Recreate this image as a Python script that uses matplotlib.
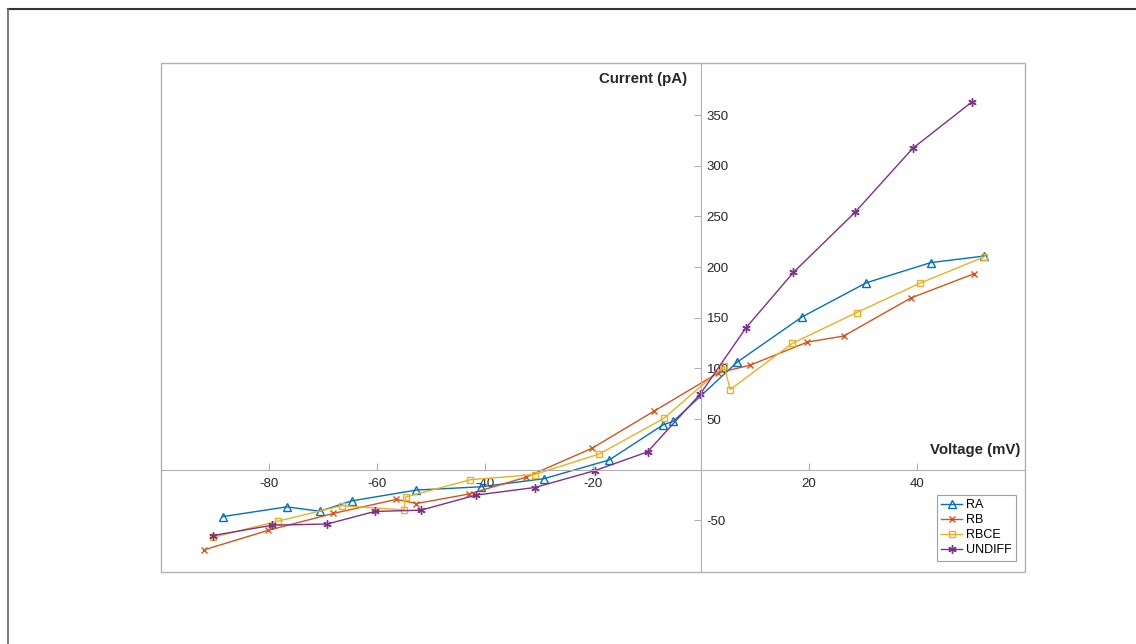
import numpy as np
import matplotlib.pyplot as plt
from matplotlib.lines import Line2D
from matplotlib.patches import Rectangle

# I-V curves, voltage in mV and current in pA
ra_v = [-88.6, -76.7, -70.6, -64.7, -52.7, -40.8, -29.1, -17.0, -7.1, -5.1, 6.7, 18.7, 30.6, 42.5, 52.4]
ra_i = [-46.3, -36.7, -41.0, -30.8, -20.1, -16.9, -8.9, 9.6, 44.0, 47.9, 106.2, 150.8, 184.5, 204.4, 210.9]

rb_v = [-92.0, -80.1, -68.1, -56.4, -52.7, -43.0, -32.5, -20.2, -8.7, 3.2, 9.1, 19.7, 26.4, 38.9, 50.6]
rb_i = [-79.1, -59.8, -43.2, -29.3, -33.4, -24.0, -7.6, 21.1, 57.8, 95.6, 103.2, 126.0, 131.9, 169.6, 193.5]

rbce_v = [-90.4, -78.4, -66.5, -55.0, -54.7, -42.7, -30.8, -18.8, -6.9, 4.3, 5.4, 16.9, 28.8, 40.6, 52.4]
rbce_i = [-66.8, -50.9, -35.5, -39.7, -27.0, -9.9, -4.8, 15.6, 50.6, 102.2, 79.1, 124.7, 155.1, 184.2, 210.0]

undiff_v = [-90.4, -79.4, -69.2, -60.4, -51.9, -41.7, -30.8, -19.7, -9.9, -0.1, 8.3, 17.1, 28.5, 39.2, 50.1]
undiff_i = [-65.0, -54.8, -53.6, -41.2, -40.0, -25.1, -17.6, -1.0, 17.6, 74.9, 139.9, 194.7, 254.0, 317.2, 362.8]

xticks = [-80, -60, -40, -20, 20, 40]
yticks = [-50, 50, 100, 150, 200, 250, 300, 350]

plt.rcParams['font.family'] = ['Liberation Sans', 'DejaVu Sans']
plt.rcParams['axes.unicode_minus'] = False

fig = plt.figure(figsize=(11.36, 6.44), dpi=100)
ax = fig.add_axes([161 / 1136, 72 / 644, 864 / 1136, 509 / 644])

asterisk = (6, 2, 0)
ax.plot(ra_v, ra_i, color='#0072BD', lw=1.0, marker='^', mfc='none', ms=6, mew=1.0, label='RA')
ax.plot(rb_v, rb_i, color='#D95319', lw=1.0, marker='x', ms=5, mew=1.0, label='RB')
ax.plot(rbce_v, rbce_i, color='#EDB120', lw=1.0, marker='s', mfc='none', ms=5, mew=1.0, label='RBCE')
ax.plot(undiff_v, undiff_i, color='#7E2F8E', lw=1.0, marker=asterisk, ms=6, mew=1.0, label='UNDIFF')

ax.set_xlim(-100, 60)
ax.set_ylim(-101, 401.5)

grey = '#b0b0b0'
ax.spines['top'].set_visible(False)
ax.spines['left'].set_visible(False)
ax.spines['right'].set_position(('data', 0))
ax.spines['bottom'].set_position(('data', 0))
ax.spines['right'].set_color(grey)
ax.spines['bottom'].set_color(grey)
ax.add_patch(Rectangle((0, 0), 1, 1, transform=ax.transAxes, fill=False,
                       edgecolor=grey, lw=1.0, clip_on=False, zorder=0))

ax.yaxis.tick_right()
ax.set_xticks(xticks)
ax.set_yticks(yticks)
ax.tick_params(axis='both', direction='in', length=5, width=0.8, color=grey,
               labelsize=9.5, labelcolor='#262626')
ax.tick_params(axis='x', pad=6)
ax.tick_params(axis='y', pad=4)

ax.text(-2.5, 386, 'Current (pA)', ha='right', va='center', fontsize=10.8,
        fontweight='bold', color='#262626')
ax.text(59.2, 19.5, 'Voltage (mV)', ha='right', va='center', fontsize=10.8,
        fontweight='bold', color='#262626')

leg = ax.legend(loc='lower right', bbox_to_anchor=(0.990, 0.022), fontsize=9,
                fancybox=False, framealpha=1, edgecolor='#a0a0a0',
                handlelength=1.7, handletextpad=0.3, borderpad=0.35,
                labelspacing=0.25, borderaxespad=0)
leg.get_frame().set_linewidth(0.8)

# page frame around the figure
fig.add_artist(Line2D([8 / 1136, 1], [1 - 9 / 644, 1 - 9 / 644], color='#333333', lw=1.5))
fig.add_artist(Line2D([8 / 1136, 8 / 1136], [0, 1 - 9 / 644], color='#666666', lw=1.2))

fig.savefig('out.png', dpi=100)
